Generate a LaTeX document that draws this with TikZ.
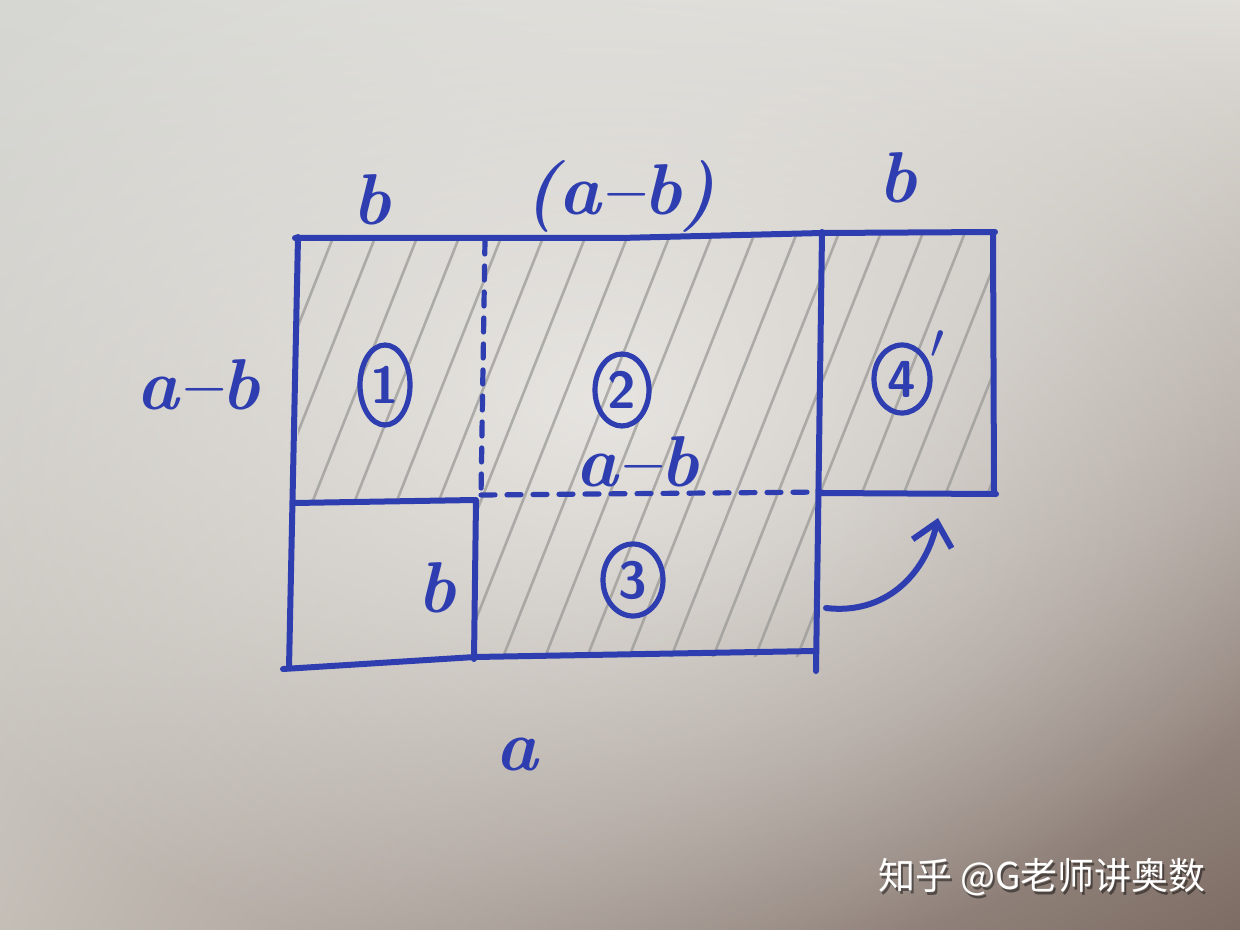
\documentclass[tikz,border=0pt]{standalone}
\usepackage{fontspec}
\newfontfamily\cjk{Noto Sans CJK SC}
\usetikzlibrary{shapes.geometric,arrows.meta,fadings,shadings}
\definecolor{ink}{RGB}{46,62,176}
\definecolor{hatch}{RGB}{150,150,148}
\definecolor{bgTL}{RGB}{214,215,211}
\definecolor{bgTR}{RGB}{224,222,217}
\definecolor{bgBL}{RGB}{196,190,183}
\definecolor{bgBR}{RGB}{125,108,100}
\definecolor{bgmid}{RGB}{233,231,227}
\tikzfading[name=softspot, inner color=transparent!0, outer color=transparent!100]
\begin{document}
\begin{tikzpicture}[x=0.5pt,y=-0.5pt,
  pen/.style={draw=ink,line width=3pt,line cap=round,line join=round},
  dashpen/.style={draw=ink,line width=2.6pt,line cap=round,dash pattern=on 7pt off 6pt},
  lab/.style={text=ink,font=\fontsize{36}{36}\selectfont\bfseries\itshape,inner sep=0pt},
  num/.style={ellipse,draw=ink,line width=2.6pt,text=ink,font=\fontsize{26}{26}\selectfont\sffamily\bfseries,inner sep=0pt,minimum width=27pt,minimum height=36pt},
  hatchline/.style={draw=hatch,line width=1.3pt,opacity=0.7},
  wmtext/.style={font=\cjk\fontsize{18.5}{18.5}\selectfont,inner sep=0pt}]
% background
\useasboundingbox (0,0) rectangle (1240,930);
\shade[upper left=bgTL, upper right=bgTR, lower left=bgBL, lower right=bgBR] (0,0) rectangle (1240,930);
\fill[bgmid, path fading=softspot, fill opacity=0.95] (600,400) ellipse (780 and 580);
% hatching
\begin{scope}
  \clip (298,238) rectangle (483,502) (483,236) rectangle (820,495) (475,495) rectangle (818,657) (822,233) rectangle (993,493);
  \foreach \x in {150,192,...,1150} \draw[hatchline] (\x,700) -- ++(190,-480);
\end{scope}
% pen lines
\draw[pen] (295,238) -- (620,238) -- (822,233) -- (995,232);
\draw[pen] (298,237) -- (289,668);
\draw[pen] (283,669) -- (475,657) -- (815,651);
\draw[pen] (822,232) -- (816,671);
\draw[pen] (294,503) -- (475,500);
\draw[pen] (476,500) -- (474,659);
\draw[dashpen] (485,240) -- (481,495);
\draw[dashpen] (481,495) -- (822,492);
\draw[pen] (993,232) -- (994,494);
\draw[pen] (820,493) -- (996,494);
% labels
\node[lab] (tb1) at (372,200) {b};
\node[lab] (tab) at (620,196) {(a--b)};
\node[lab] (tb2) at (898,178) {b};
\node[lab] (lamb) at (198,385) {a--b};
\node[lab] (mab) at (637,462) {a--b};
\node[lab] (lb) at (437,588) {b};
\node[lab] (ba) at (517,755) {a};
\node[num,minimum width=25pt,minimum height=40pt] (c1) at (385,385) {1};
\node[num] (c2) at (622,390) {2};
\node[num,minimum width=30pt] (c3) at (633,580) {3};
\node[num,minimum width=28pt,minimum height=34pt,
  label={[text=ink,font=\fontsize{30}{30}\selectfont,inner sep=0pt,label distance=1pt]35:$\prime$}] (c4) at (902,379) {4};
% arrow
\coordinate (arrS) at (826,608);
\coordinate (arrE) at (938,518);
\draw[pen,-{Straight Barb[length=11pt,width=20pt]}] (arrS) .. controls (885,615) and (925,575) .. (arrE);
% watermark
\node[wmtext,text=black,opacity=0.45] (wms) at (1044,880) {知乎 @G老师讲奥数};
\node[wmtext,text=white] (wm) at (1042,877) {知乎 @G老师讲奥数};
\end{tikzpicture}
\end{document}
